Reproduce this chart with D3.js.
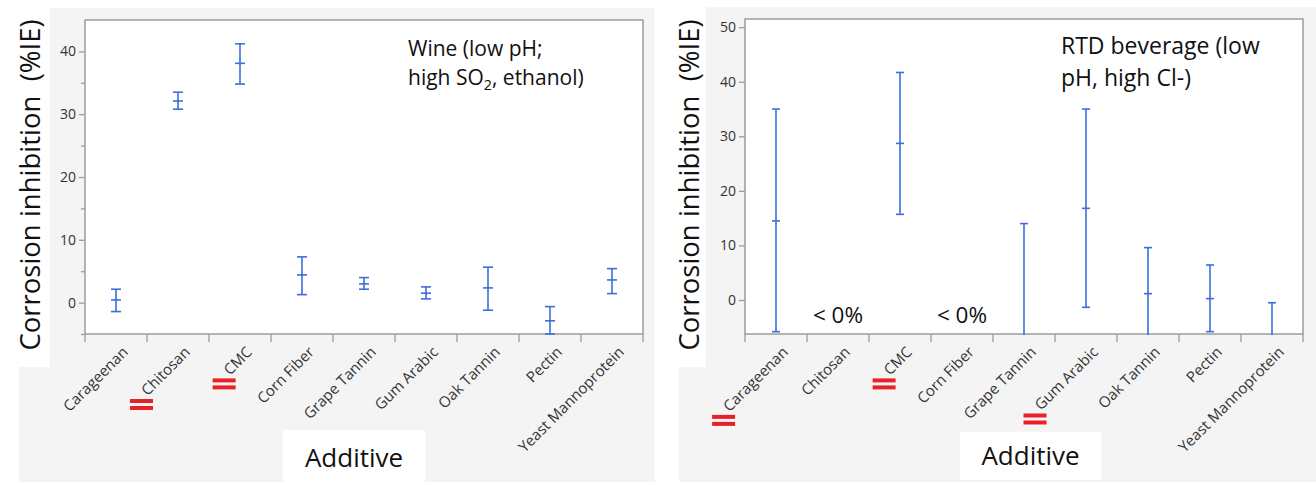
<!DOCTYPE html>
<html><head><meta charset="utf-8">
<script src="https://cdn.jsdelivr.net/npm/d3@7"></script>
<style>body{margin:0;background:#fff}svg{display:block}</style>
</head><body>
<script>
// ---------- data ----------
const categories = ["Carageenan","Chitosan","CMC","Corn Fiber","Grape Tannin","Gum Arabic","Oak Tannin","Pectin","Yeast Mannoprotein"];
const wineMean  = [0.43, 32.1, 38.1, 4.41, 2.98, 1.5, 2.34, -2.9, 3.61];
const wineLower = [-1.43, 30.8, 34.8, 1.27, 2.13, 0.59, -1.21, -5.0, 1.43];
const wineUpper = [2.13, 33.5, 41.2, 7.28, 3.98, 2.5, 5.64, -0.64, 5.41];
// RTD beverage: Chitosan and Corn Fiber have no estimate (< 0%)
const rtdMean  = [14.5, null, 28.7, null, -8,   16.8, 1.16, 0.25, -8];
const rtdLower = [-5.8, null, 15.7, null, -30,  -1.34, -7.3, -5.8, -15.5];
const rtdUpper = [35.0, null, 41.7, null, 14.0, 35.0, 9.6, 6.42, -0.5];
const wineTicks = [0,10,20,30,40];
const wineMinorTicks = [-5,5,15,25,35];
const rtdTicks = [0,10,20,30,40,50];
const wineDomain = [-5, 45];
const rtdDomain = [-6.23, 51.5];
const wineNote = ["Wine (low pH;", "high SO|2|, ethanol)"];
const rtdNote = ["RTD beverage (low", "pH, high Cl-)"];
const rtdBelowZero = ["Chitosan","Corn Fiber"];
const wineMarked = ["Chitosan","CMC"];
const rtdMarked = ["Carageenan","CMC","Gum Arabic"];
const yTitle = "Corrosion inhibition\u00a0\u00a0(%IE)";
const xTitle = "Additive";

// ---------- drawing ----------
const W = 1316, H = 485;
const svg = d3.select("body").append("svg").attr("width", W).attr("height", H);
const FONT = "'Open Sans', 'Noto Sans', sans-serif";
const GRAY_BG = "#f4f4f4";
const BAR = "#3a6fdc";

function panel(o) {
  const g = svg.append("g");
  g.append("rect").attr("x", o.bg[0]).attr("y", o.bg[1]).attr("width", o.bg[2]-o.bg[0]).attr("height", o.bg[3]-o.bg[1]).attr("fill", GRAY_BG);
  g.append("rect").attr("x", o.bg2[0]).attr("y", o.bg2[1]).attr("width", o.bg2[2]-o.bg2[0]).attr("height", o.bg2[3]-o.bg2[1]).attr("fill", GRAY_BG);
  g.append("rect").attr("x", o.xbox[0]).attr("y", o.xbox[1]).attr("width", o.xbox[2]-o.xbox[0]).attr("height", o.xbox[3]-o.xbox[1]).attr("fill", "#fff");

  const x = d3.scaleBand().domain(categories).range([o.x0, o.x1]);
  const y = d3.scaleLinear().domain(o.domain).range([o.y1, o.y0]);

  g.append("rect").attr("x", o.x0).attr("y", o.y0).attr("width", o.x1-o.x0).attr("height", o.y1-o.y0)
    .attr("fill", "#fff").attr("stroke", "#9c9c9c").attr("stroke-width", 1.5);

  const yAx = g.append("g").attr("transform", `translate(${o.x0},0)`)
    .call(d3.axisLeft(y).tickValues(o.ticks).tickSize(6).tickPadding(3).tickFormat(d3.format("d")));
  yAx.select(".domain").remove();
  yAx.selectAll(".tick line").attr("stroke", "#9c9c9c").attr("stroke-width", 1.3);
  yAx.selectAll(".tick text").attr("font-family", FONT).attr("font-size", 14).attr("fill", "#333");
  if (o.minor) {
    const m = g.append("g").attr("transform", `translate(${o.x0},0)`)
      .call(d3.axisLeft(y).tickValues(o.minor).tickSize(4).tickFormat(""));
    m.select(".domain").remove();
    m.selectAll(".tick line").attr("stroke", "#9c9c9c").attr("stroke-width", 1.3);
  }

  const bounds = categories.map(c => x(c)).concat([o.x1]);
  g.selectAll("line.div").data(bounds).join("line")
    .attr("x1", d => d).attr("x2", d => d).attr("y1", o.y1).attr("y2", o.y1 + 8)
    .attr("stroke", "#9c9c9c").attr("stroke-width", 1.3);

  const ax = d => x(d) + x.bandwidth()/2 + 13;
  const ay = o.y1 + 19;
  const labels = g.selectAll("text.cat").data(categories).join("text")
    .attr("class", "cat")
    .attr("transform", d => `translate(${ax(d)},${ay}) rotate(-45)`)
    .attr("text-anchor", "end").attr("font-family", FONT).attr("font-size", 15).attr("fill", "#333")
    .text(d => d);

  // red "=" markers just below each marked label's starting point
  labels.filter(d => o.marked.includes(d)).each(function(d) {
    const len = this.getComputedTextLength();
    const cx = ax(d) - len * Math.SQRT1_2 - 6;
    const cy = ay + len * Math.SQRT1_2 + 8;
    [-3.5, 3.5].forEach(dy => {
      g.append("rect").attr("x", cx - 11.5).attr("y", cy + dy - 2).attr("width", 23).attr("height", 4).attr("fill", "#e8202a");
    });
  });

  const clipId = "clip" + o.id;
  svg.append("clipPath").attr("id", clipId).append("rect")
    .attr("x", o.x0).attr("y", o.y0 - 1).attr("width", o.x1 - o.x0).attr("height", o.y1 - o.y0 + 2);
  const data = categories.map((c, i) => ({c, m: o.mean[i], lo: o.lower[i], hi: o.upper[i]})).filter(d => d.m != null);
  const eb = g.append("g").attr("clip-path", `url(#${clipId})`);
  const cw = o.cap;
  data.forEach(d => {
    const cx = x(d.c) + x.bandwidth()/2;
    eb.append("line").attr("x1", cx).attr("x2", cx).attr("y1", y(d.lo)).attr("y2", y(d.hi));
    [d.lo, d.m, d.hi].forEach(v => {
      eb.append("line").attr("x1", cx - cw/2).attr("x2", cx + cw/2).attr("y1", y(v)).attr("y2", y(v));
    });
  });
  eb.selectAll("line").attr("stroke", BAR).attr("stroke-width", 1.6);

  g.selectAll("text.lz").data(o.belowZero).join("text")
    .attr("x", d => x(d) + x.bandwidth()/2).attr("y", o.y1 - 11)
    .attr("text-anchor", "middle").attr("font-family", FONT).attr("font-size", 22.5).attr("fill", "#111")
    .text("< 0%");

  const note = g.append("text").attr("font-family", FONT).attr("font-size", o.noteSize).attr("fill", "#111");
  o.note.forEach((line, i) => {
    const parts = line.split("|");
    parts.forEach((p, j) => {
      const t = note.append("tspan").text(p);
      if (j === 0) t.attr("x", o.noteX).attr("y", o.noteY + i * o.noteDy);
      if (j === 1) t.attr("font-size", o.noteSize * 0.68).attr("dy", 5);
      if (j === 2) t.attr("dy", -5);
    });
  });

  g.append("text").attr("transform", `translate(${o.yTitleX},${o.yTitleY}) rotate(-90)`)
    .attr("text-anchor", "middle").attr("font-family", FONT).attr("font-size", 27.5).attr("fill", "#111")
    .text(yTitle);
  g.append("text").attr("x", (o.xbox[0] + o.xbox[2]) / 2).attr("y", o.xbox[3] - 15)
    .attr("text-anchor", "middle").attr("font-family", FONT).attr("font-size", 26).attr("fill", "#111")
    .text(xTitle);
}

panel({id: "L", x0: 85, x1: 643, y0: 20, y1: 334, domain: wineDomain, ticks: wineTicks, minor: wineMinorTicks,
  mean: wineMean, lower: wineLower, upper: wineUpper, cap: 10, marked: wineMarked, belowZero: [],
  note: wineNote, noteX: 408, noteY: 56, noteDy: 29, noteSize: 21,
  bg: [50, 8, 655, 482], bg2: [19, 367, 50, 482], xbox: [283, 430, 425, 482],
  yTitleX: 40, yTitleY: 185});

panel({id: "R", x0: 745, x1: 1303, y0: 19, y1: 334, domain: rtdDomain, ticks: rtdTicks, minor: null,
  mean: rtdMean, lower: rtdLower, upper: rtdUpper, cap: 8, marked: rtdMarked, belowZero: rtdBelowZero,
  note: rtdNote, noteX: 1061, noteY: 54, noteDy: 32, noteSize: 23,
  bg: [706, 7, 1316, 482], bg2: [679, 367, 706, 482], xbox: [960, 432, 1101, 480],
  yTitleX: 699, yTitleY: 185});
</script>
</body></html>
